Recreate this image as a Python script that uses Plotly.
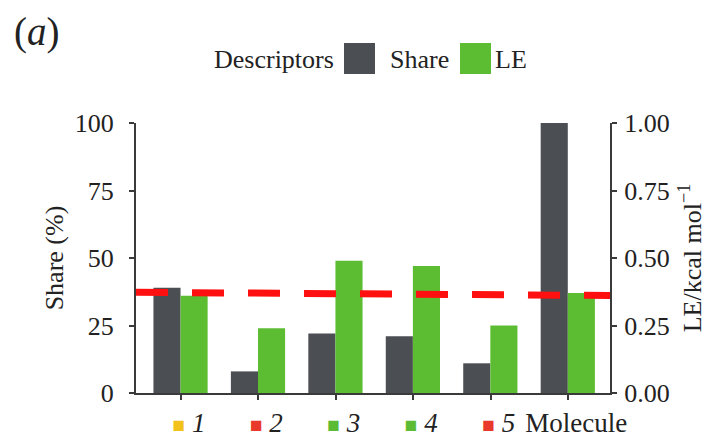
import plotly.graph_objects as go

# Descriptor data
categories = ["1", "2", "3", "4", "5", "Molecule"]
marker_colors = ["#f2c21b", "#e8392b", "#5cbb35", "#5cbb35", "#e8392b", None]
share_pct = [39, 8, 22, 21, 11, 100]
le_values = [0.36, 0.24, 0.49, 0.47, 0.25, 0.37]
le_reference = [0.373, 0.361]          # dashed reference LE level (left end, right end)
le_reference_x = [-0.58, 5.63]

DARK = "#4b4e53"
GREEN = "#5cbd33"
RED = "#ff1010"
AXIS = "#3a3a3a"
INK = "#222222"
FONT = "Liberation Serif"

x_idx = list(range(len(categories)))


def tick_label(name, color):
    if color is None:
        return name
    return (f"<span style='font-size:21px;color:{color}'>■</span>"
            f" <i>{name}</i>")


tick_text = [tick_label(c, col) for c, col in zip(categories, marker_colors)]


def f(size):
    return dict(family=FONT, size=size, color=INK)


fig = go.Figure()

fig.add_trace(go.Bar(
    x=x_idx, y=share_pct, name="Share", yaxis="y",
    marker=dict(color=DARK, line=dict(width=0)),
    width=0.35, offset=-0.355, showlegend=False,
))
fig.add_trace(go.Bar(
    x=x_idx, y=le_values, name="LE", yaxis="y2",
    marker=dict(color=GREEN, line=dict(width=0)),
    width=0.35, offset=-0.005, showlegend=False,
))
fig.add_trace(go.Scatter(
    x=le_reference_x, y=le_reference, yaxis="y2", mode="lines",
    line=dict(color=RED, width=7, dash="32px,24px"),
    showlegend=False, hoverinfo="skip",
))

W, H = 712, 438
L, R, T, B = 136, 102, 123, 45
pw, ph = W - L - R, H - T - B


def px(xp):
    return (xp - L) / pw


def py(yp):
    return (H - B - yp) / ph


annotations = [
    dict(text="(<i>a</i>)", x=px(12), y=py(32), xanchor="left", yanchor="middle",
         font=f(39)),
    dict(text="Descriptors", x=px(336), y=py(60), xanchor="right", yanchor="middle",
         font=f(26)),
    dict(text="Share", x=px(388), y=py(60), xanchor="left", yanchor="middle",
         font=f(26)),
    dict(text="LE", x=px(493), y=py(60), xanchor="left", yanchor="middle",
         font=f(26)),
]
for a in annotations:
    a.update(xref="paper", yref="paper", showarrow=False)

shapes = [
    dict(type="rect", xref="paper", yref="paper", x0=px(344), x1=px(375),
         y0=py(74), y1=py(43), fillcolor=DARK, line=dict(width=0)),
    dict(type="rect", xref="paper", yref="paper", x0=px(460), x1=px(491),
         y0=py(74), y1=py(43), fillcolor=GREEN, line=dict(width=0)),
]

fig.update_layout(
    width=W, height=H,
    margin=dict(l=L, r=R, t=T, b=B, pad=0),
    paper_bgcolor="white", plot_bgcolor="white",
    font=f(26),
    barmode="overlay",
    annotations=annotations, shapes=shapes,
    xaxis=dict(
        range=[-0.58, 5.54], tickmode="array", tickvals=x_idx, ticktext=tick_text,
        showline=True, linecolor=AXIS, linewidth=2, mirror=False,
        ticks="outside", ticklen=5, tickwidth=2, tickcolor=AXIS,
        showgrid=False, zeroline=False, ticklabelshift=8, ticklabelstandoff=0,
        tickfont=f(27), automargin=False,
    ),
    yaxis=dict(
        range=[0, 100], tickvals=[0, 25, 50, 75, 100],
        showline=True, linecolor=AXIS, linewidth=2,
        ticks="outside", ticklen=5, tickwidth=2, tickcolor=AXIS,
        showgrid=False, zeroline=False, ticklabelstandoff=10,
        tickfont=f(26),
        title=dict(text="Share (%)", font=f(26), standoff=4),
        automargin=False,
    ),
    yaxis2=dict(
        range=[0, 1], tickvals=[0, 0.25, 0.5, 0.75, 1.0],
        ticktext=["0.00", "0.25", "0.50", "0.75", "1.00"],
        overlaying="y", side="right", anchor="x",
        showline=True, linecolor=AXIS, linewidth=2,
        ticks="outside", ticklen=5, tickwidth=2, tickcolor=AXIS,
        showgrid=False, zeroline=False, ticklabelstandoff=2,
        tickfont=f(26),
        title=dict(text="LE/kcal mol<sup>−1</sup>", font=f(26), standoff=14),
        automargin=False,
    ),
)

fig.write_html("out.html")
